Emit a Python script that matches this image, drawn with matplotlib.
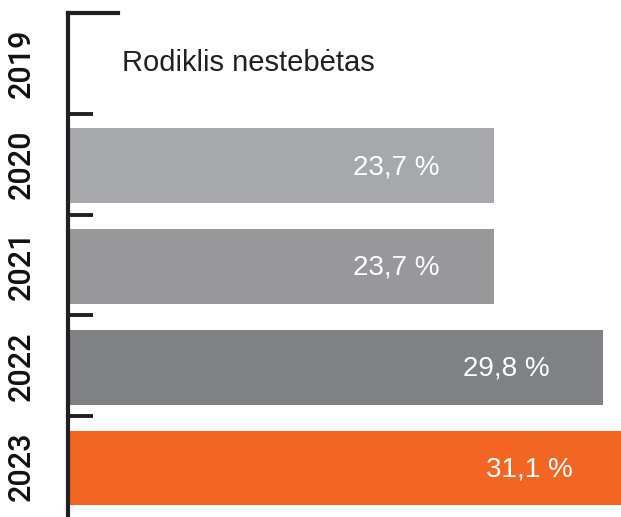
import matplotlib
matplotlib.use("Agg")
import matplotlib.pyplot as plt

years = ["2019", "2020", "2021", "2022", "2023"]
values = [None, 23.7, 23.7, 29.8, 31.1]
labels = ["", "23,7 %", "23,7 %", "29,8 %", "31,1 %"]
colors = ["#ffffff", "#a7a8ab", "#98989b", "#808185", "#f26522"]
note = "Rodiklis nestebėtas"

plt.rcParams['font.family'] = ['Liberation Sans', 'DejaVu Sans']

fig = plt.figure(figsize=(6.21, 5.17), dpi=100)
ax = fig.add_axes([68/621, 0, 1 - 68/621, (517 - 13) / 517])

for i, (v, c, lab) in enumerate(zip(values, colors, labels)):
    if v is None:
        continue
    ax.barh(i + 0.015, v, height=0.74, color=c, edgecolor='none')
    ax.text(v - 3.0, i, lab, ha='right', va='center_baseline', color='white', fontsize=20)

ax.text(3.0, -0.03, note, ha='left', va='center_baseline', color='#231f20', fontsize=21)

ax.set_xlim(0, 30.8)
ax.set_ylim(4.5, -0.5)
ax.set_yticks(range(len(years)))
ax.set_yticklabels(years, rotation=90, va='center', fontsize=22, color='#111111',
                   family=['Roboto', 'Liberation Sans'], fontweight='medium')
ax.tick_params(axis='y', which='major', length=0, pad=23)
ax.set_yticks([0.5, 1.5, 2.5, 3.5], minor=True)
ax.tick_params(axis='y', which='minor', direction='in', length=18, width=2.8, color='#231f20')
ax.set_xticks([])
for s in ['top', 'right', 'bottom']:
    ax.spines[s].set_visible(False)
ax.spines['left'].set_linewidth(3)
ax.spines['left'].set_color('#231f20')
ax.plot([0, 50/553], [-0.5, -0.5], transform=ax.get_yaxis_transform(), color='#231f20',
        lw=3, clip_on=False, solid_capstyle='projecting')

fig.savefig("out.png", dpi=100)
